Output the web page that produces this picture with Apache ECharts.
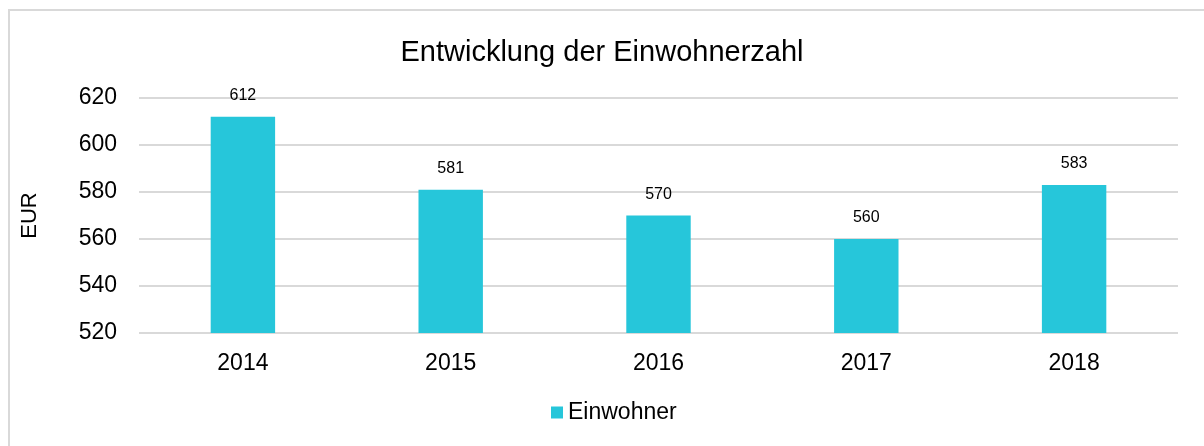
<!DOCTYPE html>
<html>
<head>
<meta charset="utf-8">
<script src="https://cdn.jsdelivr.net/npm/echarts@6/dist/echarts.min.js"></script>
<style>
  html, body { margin: 0; padding: 0; background: #fff; }
  #main-chart { width: 1204px; height: 446px; }
</style>
</head>
<body>
<div id="main-chart"></div>
<script>
const years = ['2014', '2015', '2016', '2017', '2018']
const einwohner = [612, 581, 570, 560, 583]
const seriesName = 'Einwohner'
const FONT = 'Liberation Sans, Arial, sans-serif'

const chart = echarts.init(document.getElementById('main-chart'))

chart.setOption({
  animation: false,
  backgroundColor: '#fff',
  textStyle: { fontFamily: FONT },
  title: {
    text: 'Entwicklung der Einwohnerzahl',
    left: 'center',
    top: 33,
    textStyle: { fontSize: 29, fontWeight: 'normal', color: '#000', fontFamily: FONT },
  },
  legend: {
    bottom: 17,
    left: 546,
    itemWidth: 12,
    itemHeight: 12,
    itemGap: 4,
    icon: 'rect',
    textStyle: { fontSize: 23, color: '#000', fontFamily: FONT },
    data: [seriesName],
  },
  grid: { left: 139, right: 26, top: 98, bottom: 113 },
  xAxis: {
    type: 'category',
    data: years,
    axisLine: { show: false },
    axisTick: { show: false },
    axisLabel: { fontSize: 23, color: '#000', margin: 19, fontFamily: FONT },
  },
  yAxis: {
    type: 'value',
    min: 520,
    max: 620,
    interval: 20,
    name: 'EUR',
    nameLocation: 'middle',
    nameGap: 98,
    nameRotate: 90,
    nameTextStyle: { fontSize: 22, color: '#000', fontFamily: FONT },
    axisLine: { show: false },
    axisTick: { show: false },
    axisLabel: { fontSize: 23, color: '#000', margin: 22, fontFamily: FONT },
    splitLine: { lineStyle: { color: '#d9d9d9', width: 2 } },
  },
  series: [{
    name: seriesName,
    type: 'bar',
    data: einwohner,
    barWidth: '31%',
    itemStyle: { color: '#26C6DA' },
    label: {
      show: true,
      position: 'top',
      distance: 13,
      fontSize: 16,
      color: '#000',
      fontFamily: FONT,
    },
  }],
  graphic: [{
    type: 'rect',
    silent: true,
    z: -1,
    shape: { x: 9, y: 10, width: 1300, height: 600 },
    style: { fill: 'none', stroke: '#d9d9d9', lineWidth: 2 },
  }],
})
</script>
</body>
</html>
